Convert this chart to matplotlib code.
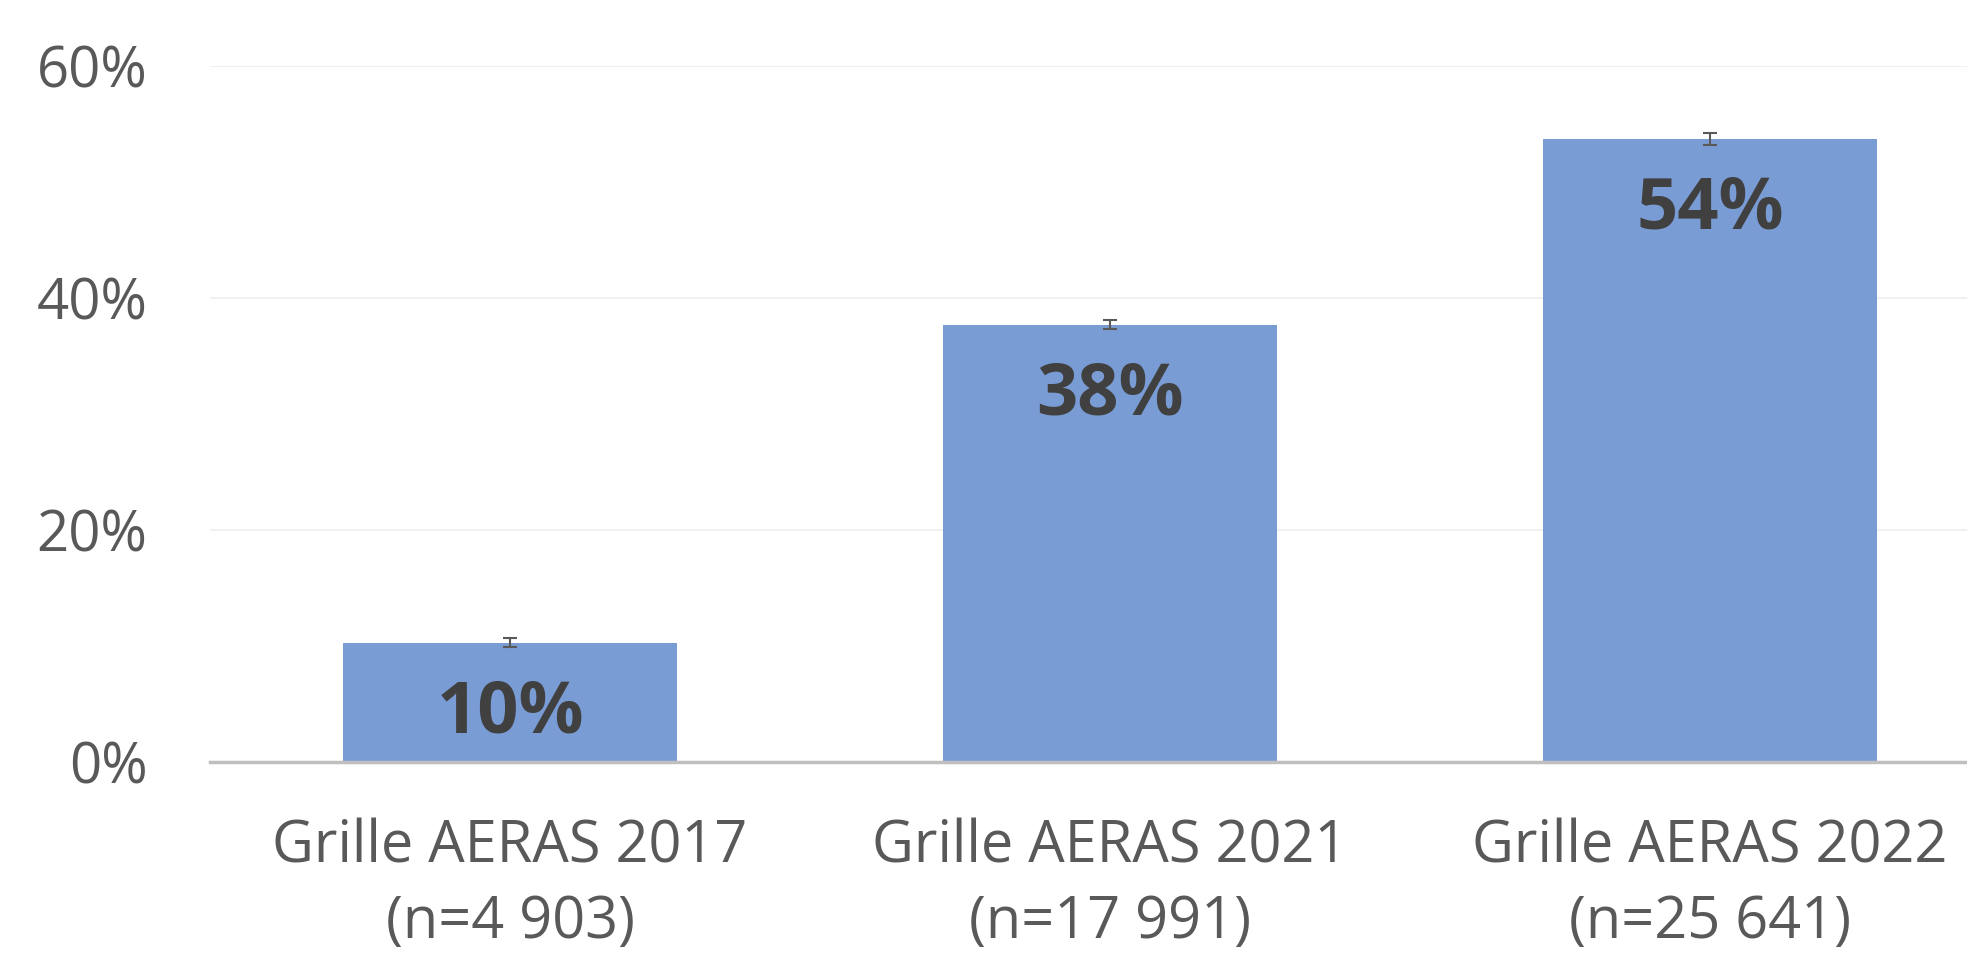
import matplotlib
matplotlib.use("Agg")
import matplotlib.pyplot as plt
from matplotlib.ticker import PercentFormatter

# Data
categories = ["Grille AERAS 2017\n(n=4 903)", "Grille AERAS 2021\n(n=17 991)", "Grille AERAS 2022\n(n=25 641)"]
values = [10.3, 37.7, 53.7]
errors = [0.35, 0.4, 0.5]
labels = ["10%", "38%", "54%"]

plt.rcParams['font.family'] = ['Open Sans', 'DejaVu Sans']

fig = plt.figure(figsize=(19.67, 9.6), dpi=100)
ax = fig.add_axes([210 / 1967, 198 / 960, 1800 / 1967, 696 / 960])

x = range(len(categories))
ax.bar(x, values, width=0.557, color="#7A9CD5", zorder=2)
ax.errorbar(x, values, yerr=errors, fmt="none", ecolor="#595959",
            elinewidth=1.5, capsize=5, capthick=1.5, zorder=3)

for i, (v, lab) in enumerate(zip(values, labels)):
    ax.annotate(lab, (i, v), xytext=(0, -25), textcoords="offset points",
                ha="center", va="top", fontsize=52, fontweight="bold", color="#404040")

ax.set_xlim(-0.5, 2.5)
ax.set_ylim(0, 60)
ax.set_yticks([0, 20, 40, 60])
ax.yaxis.set_major_formatter(PercentFormatter(decimals=0))
ax.set_xticks(list(x))
ax.set_xticklabels(categories, linespacing=1.4, fontsize=41.5)
ax.tick_params(axis="both", length=0, colors="#595959")
ax.tick_params(axis="y", labelsize=40.5, pad=45)
ax.tick_params(axis="x", pad=40)

ax.grid(axis="y", color="#EDEDED", linewidth=1.2, zorder=0)
for s in ["top", "right", "left"]:
    ax.spines[s].set_visible(False)
ax.spines["bottom"].set_color("#BFBFBF")
ax.spines["bottom"].set_linewidth(2.5)

fig.savefig("out.png", dpi=100)
